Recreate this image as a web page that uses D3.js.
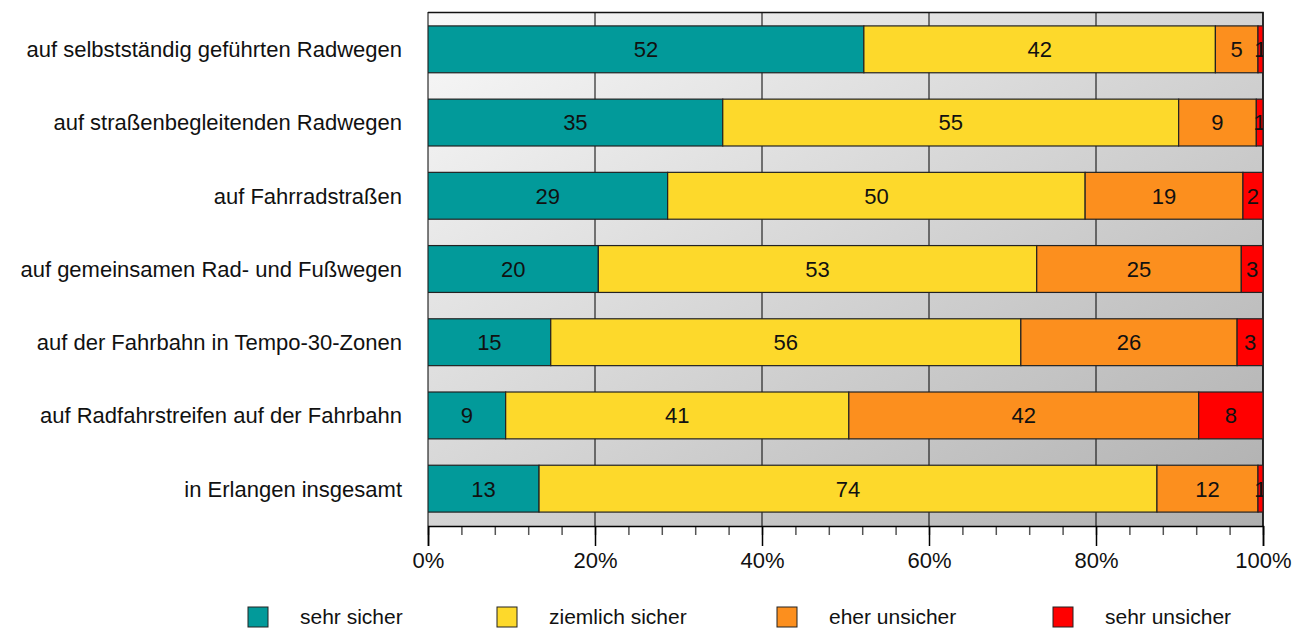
<!DOCTYPE html>
<html lang="de">
<head>
    <meta charset="UTF-8">
    <script src="https://d3js.org/d3.v7.min.js"></script>
    <style>
        body {
            margin: 0;
            font-family: Arial, "Liberation Sans", sans-serif;
            background: #fff;
        }
    </style>
</head>
<body>
<div id="chart"></div>
<script>
// Data (percent per category)
var categories = [
    "auf selbstständig geführten Radwegen",
    "auf straßenbegleitenden Radwegen",
    "auf Fahrradstraßen",
    "auf gemeinsamen Rad- und Fußwegen",
    "auf der Fahrbahn in Tempo-30-Zonen",
    "auf Radfahrstreifen auf der Fahrbahn",
    "in Erlangen insgesamt"
];
var seriesNames = ["sehr sicher", "ziemlich sicher", "eher unsicher", "sehr unsicher"];
var sehrSicher     = [52.2, 35.3, 28.7, 20.4, 14.7, 9.3, 13.3];
var ziemlichSicher = [42.1, 54.6, 50.0, 52.5, 56.3, 41.1, 74.0];
var eherUnsicher   = [5.1, 9.3, 18.9, 24.5, 25.9, 41.9, 12.1];
var sehrUnsicher   = [0.6, 0.8, 2.4, 2.6, 3.1, 7.7, 0.6];
var xTicks = [0, 20, 40, 60, 80, 100];
var minorTicks = d3.range(0, 101, 4);
var colors = ["#029a9a", "#fdd92b", "#fc8f1e", "#ff0000"];

var seriesValues = [sehrSicher, ziemlichSicher, eherUnsicher, sehrUnsicher];

var W = 1307, H = 629;
var margin = { top: 12, right: 44, bottom: 103, left: 428 };
var width = W - margin.left - margin.right,
    height = H - margin.top - margin.bottom;

var svg = d3.select("#chart").append("svg")
    .attr("width", W)
    .attr("height", H)
    .style("font-family", "Arial, 'Liberation Sans', sans-serif");

var defs = svg.append("defs");
var grad = defs.append("linearGradient")
    .attr("id", "bg")
    .attr("x1", 0).attr("y1", 0).attr("x2", 1).attr("y2", 1);
grad.append("stop").attr("offset", "0%").attr("stop-color", "#f9f9f9");
grad.append("stop").attr("offset", "100%").attr("stop-color", "#afafaf");

defs.append("clipPath").attr("id", "plotclip")
    .append("rect").attr("width", width).attr("height", height);

var g = svg.append("g")
    .attr("transform", `translate(${margin.left},${margin.top})`);

var x = d3.scaleLinear().domain([0, 100]).range([0, width]);
var y = d3.scaleBand()
    .domain(categories)
    .range([0, height])
    .paddingInner(0.36)
    .paddingOuter(0.19);

// Background
g.append("rect")
    .attr("width", width)
    .attr("height", height)
    .attr("fill", "url(#bg)");

// Vertical gridlines
g.selectAll(".grid")
    .data(xTicks)
    .enter()
    .append("line")
        .attr("x1", function(d) { return x(d); })
        .attr("x2", function(d) { return x(d); })
        .attr("y1", 0)
        .attr("y2", height)
        .attr("stroke", "#000")
        .attr("stroke-width", 1);

// Top and right border
g.append("path")
    .attr("d", `M0,0.5H${width}V${height}`)
    .attr("fill", "none")
    .attr("stroke", "#111")
    .attr("stroke-width", 1.5);

// Stack the data
var rows = categories.map(function(c, i) {
    var row = { cat: c };
    seriesNames.forEach(function(s, j) { row[s] = seriesValues[j][i]; });
    return row;
});
var stacked = d3.stack().keys(seriesNames)(rows);

var plot = g.append("g").attr("clip-path", "url(#plotclip)");

var layers = plot.selectAll(".layer")
    .data(stacked)
    .enter()
    .append("g")
        .attr("fill", function(d, i) { return colors[i]; });

layers.selectAll("rect")
    .data(function(d) { return d; })
    .enter()
    .append("rect")
        .attr("x", function(d) { return x(d[0]); })
        .attr("y", function(d) { return y(d.data.cat); })
        .attr("width", function(d) { return x(d[1]) - x(d[0]); })
        .attr("height", y.bandwidth())
        .attr("stroke", "#222")
        .attr("stroke-width", 1.2);

// Value labels
layers.selectAll("text")
    .data(function(d) { return d; })
    .enter()
    .append("text")
        .attr("x", function(d) { return (x(d[0]) + x(d[1])) / 2; })
        .attr("y", function(d) { return y(d.data.cat) + y.bandwidth() / 2; })
        .attr("dy", "0.36em")
        .attr("text-anchor", "middle")
        .attr("fill", "#111")
        .style("font-size", "22px")
        .text(function(d) { return Math.round(d[1] - d[0]); });

// Minor ticks
g.append("g")
    .attr("transform", `translate(0,${height})`)
    .call(d3.axisBottom(x).tickValues(minorTicks).tickSize(9).tickFormat(""))
    .call(function(a) { a.select(".domain").remove(); })
    .selectAll(".tick line").attr("stroke", "#555").attr("stroke-width", 1.5);

// X axis
var xAxis = g.append("g")
    .attr("transform", `translate(0,${height})`)
    .call(d3.axisBottom(x).tickValues(xTicks).tickSize(20).tickPadding(6)
        .tickFormat(function(d) { return d + "%"; }));
xAxis.select(".domain").attr("stroke", "#000").attr("stroke-width", 1.5);
xAxis.selectAll(".tick line").attr("stroke", "#000").attr("stroke-width", 1.5);
xAxis.selectAll("text")
    .attr("fill", "#111")
    .style("font-family", "Arial, 'Liberation Sans', sans-serif")
    .style("font-size", "22px");

// Category labels
g.selectAll(".cat")
    .data(categories)
    .enter()
    .append("text")
        .attr("x", -26)
        .attr("y", function(d) { return y(d) + y.bandwidth() / 2; })
        .attr("dy", "0.36em")
        .attr("text-anchor", "end")
        .attr("fill", "#111")
        .style("font-size", "22px")
        .text(function(d) { return d; });

// Legend
var legendX = [248, 497, 777, 1053];
var legend = svg.selectAll(".legend")
    .data(seriesNames)
    .enter()
    .append("g")
        .attr("transform", function(d, i) { return `translate(${legendX[i]},607)`; });

legend.append("rect")
    .attr("width", 20)
    .attr("height", 20)
    .attr("fill", function(d, i) { return colors[i]; })
    .attr("stroke", "#222")
    .attr("stroke-width", 1);

legend.append("text")
    .attr("x", 52)
    .attr("y", 10)
    .attr("dy", "0.34em")
    .attr("fill", "#111")
    .style("font-size", "21px")
    .text(function(d) { return d; });
</script>
</body>
</html>
